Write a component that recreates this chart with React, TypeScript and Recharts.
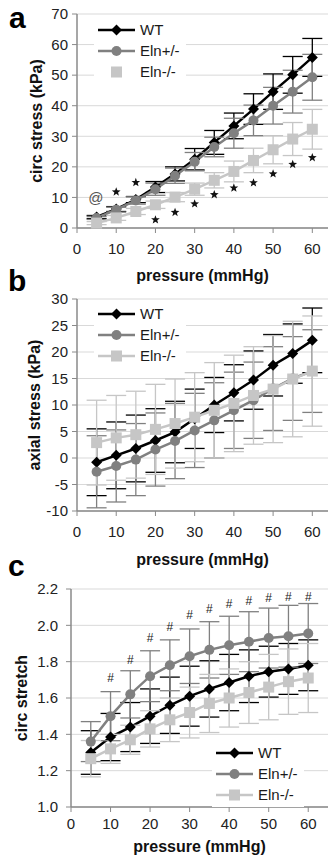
import React from 'react'
import {
  ComposedChart,
  Line,
  Scatter,
  XAxis,
  YAxis,
  CartesianGrid,
  ErrorBar,
  Legend,
  Label,
} from 'recharts'

// ── Datos ──────────────────────────────────────────────────────────────────────
const pressure = [5, 10, 15, 20, 25, 30, 35, 40, 45, 50, 55, 60]
const xTicks = [0, 10, 20, 30, 40, 50, 60]

// a: circ stress (kPa)
const wtCircStress = [3.6, 6.2, 9.3, 13.4, 17.7, 22.5, 28.0, 33.4, 38.9, 44.6, 50.1, 55.8]
const wtCircStressErr = [0.5, 0.8, 1.0, 1.8, 2.3, 3.5, 3.9, 4.2, 5.0, 5.8, 6.0, 6.2]
const hetCircStress = [3.3, 6.0, 9.0, 12.7, 17.1, 21.7, 26.5, 31.0, 35.2, 40.0, 44.6, 49.3]
const hetCircStressErr = [0.5, 0.8, 1.2, 2.0, 2.5, 3.0, 3.2, 4.9, 5.0, 6.0, 7.0, 7.5]
const koCircStress = [1.6, 3.3, 5.4, 7.6, 10.1, 12.7, 15.6, 18.5, 22.1, 25.6, 29.1, 32.3]
const koCircStressErr = [0.5, 0.8, 1.0, 1.2, 1.5, 2.0, 2.5, 3.4, 4.0, 4.6, 5.4, 6.5]
const starPressure = [10, 15, 20, 25, 30, 35, 40, 45, 50, 55, 60]
const starY = [11.8, 14.9, 2.7, 5.1, 7.9, 10.9, 13.1, 14.8, 17.7, 20.8, 23.0]
const atPressure = [4.8]
const atY = [10.0]
const circStressTicks = [0, 10, 20, 30, 40, 50, 60, 70]

// b: axial stress (kPa)
const wtAxialStress = [-0.8, 0.5, 1.8, 3.3, 4.9, 7.4, 10.0, 12.3, 14.7, 17.5, 19.7, 22.2]
const wtAxialStressErr = [6.3, 6.3, 6.3, 6.0, 5.8, 5.6, 5.2, 5.3, 5.5, 5.8, 5.6, 6.1]
const hetAxialStress = [-2.6, -1.5, -0.3, 1.6, 3.2, 5.2, 7.1, 9.0, 10.9, 13.1, 15.0, 16.4]
const hetAxialStressErr = [6.8, 6.8, 6.8, 6.9, 7.1, 7.0, 7.1, 7.2, 7.2, 7.9, 7.9, 7.8]
const koAxialStress = [2.9, 3.8, 4.4, 5.4, 6.5, 7.7, 9.0, 10.3, 11.8, 13.0, 14.9, 16.4]
const koAxialStressErr = [8.0, 8.0, 8.2, 8.5, 8.4, 8.4, 9.0, 9.1, 9.2, 10.1, 10.9, 10.4]
const axialStressTicks = [-10, -5, 0, 5, 10, 15, 20, 25, 30]

// c: circ stretch
const wtCircStretch = [1.3, 1.385, 1.44, 1.5, 1.56, 1.61, 1.65, 1.685, 1.72, 1.745, 1.76, 1.78]
const wtCircStretchErr = [0.12, 0.13, 0.135, 0.15, 0.155, 0.165, 0.155, 0.155, 0.145, 0.14, 0.14, 0.14]
const hetCircStretch = [1.36, 1.5, 1.62, 1.72, 1.78, 1.83, 1.865, 1.89, 1.91, 1.93, 1.94, 1.955]
const hetCircStretchErr = [0.11, 0.135, 0.13, 0.14, 0.14, 0.15, 0.155, 0.16, 0.165, 0.165, 0.17, 0.165]
const koCircStretch = [1.266, 1.32, 1.37, 1.43, 1.48, 1.52, 1.57, 1.6, 1.63, 1.66, 1.69, 1.71]
const koCircStretchErr = [0.1, 0.08, 0.08, 0.1, 0.12, 0.14, 0.16, 0.16, 0.17, 0.18, 0.18, 0.19]
const hashPressure = [10, 15, 20, 25, 30, 35, 40, 45, 50, 55, 60]
const hashY = [1.71, 1.81, 1.93, 1.995, 2.06, 2.09, 2.12, 2.135, 2.15, 2.155, 2.16]
const circStretchTicks = [1.0, 1.2, 1.4, 1.6, 1.8, 2.0, 2.2]

// ── Estilos ────────────────────────────────────────────────────────────────────
const FONT = '"Liberation Sans", Arial, Helvetica, sans-serif'
const WT_COLOR = '#000000'
const HET_COLOR = '#808080'
const KO_COLOR = '#c6c6c6'
const GRID = '#d9d9d9'
const AXIS = '#8a8a8a'

type Row = Record<string, number>

function buildRows(
  wt: number[], wtErr: number[],
  het: number[], hetErr: number[],
  ko: number[], koErr: number[],
): Row[] {
  return pressure.map((p, i) => ({
    p,
    wt: wt[i], wtErr: wtErr[i],
    het: het[i], hetErr: hetErr[i],
    ko: ko[i], koErr: koErr[i],
  }))
}

function buildNotes(xs: number[], ys: number[], mark: string) {
  return xs.map((p, i) => ({ p, y: ys[i], mark }))
}

// ── Marcadores ─────────────────────────────────────────────────────────────────
function Diamond({ cx, cy, index }: any) {
  if (cx == null || cy == null) return null
  const s = 5.5
  return (
    <polygon
      key={`dm-${index}`}
      points={`${cx},${cy - s} ${cx + s},${cy} ${cx},${cy + s} ${cx - s},${cy}`}
      fill={WT_COLOR}
    />
  )
}

function Circle({ cx, cy, index }: any) {
  if (cx == null || cy == null) return null
  return <circle key={`ci-${index}`} cx={cx} cy={cy} r={5} fill={HET_COLOR} />
}

function Square({ cx, cy, index }: any) {
  if (cx == null || cy == null) return null
  return <rect key={`sq-${index}`} x={cx - 5.5} y={cy - 5.5} width={11} height={11} fill={KO_COLOR} />
}

// estrella de cinco puntas para la significación
function starPoints(cx: number, cy: number, r: number) {
  const pts: string[] = []
  for (let k = 0; k < 10; k++) {
    const rad = k % 2 === 0 ? r : r * 0.42
    const a = -Math.PI / 2 + (k * Math.PI) / 5
    pts.push(`${cx + rad * Math.cos(a)},${cy + rad * Math.sin(a)}`)
  }
  return pts.join(' ')
}

function NoteMark({ cx, cy, payload }: any) {
  if (cx == null || cy == null) return null
  const mark = payload.mark
  if (mark === '*') {
    return <polygon points={starPoints(cx, cy, 4.6)} fill="#111" />
  }
  const size = mark === '#' ? 12 : 15
  return (
    <text
      x={cx}
      y={cy + size * 0.36}
      textAnchor="middle"
      fontFamily={FONT}
      fontSize={size}
      fill={mark === '@' ? '#555' : '#222'}
    >
      {mark}
    </text>
  )
}

// ── Leyenda ────────────────────────────────────────────────────────────────────
const legendItems = [
  { name: 'WT', color: WT_COLOR, shape: 'diamond' },
  { name: 'Eln+/-', color: HET_COLOR, shape: 'circle' },
  { name: 'Eln-/-', color: KO_COLOR, shape: 'square' },
]

function LegendBox({ koLine }: { koLine: boolean }) {
  return (
    <div style={{ background: '#fff', padding: '2px 6px 2px 4px', fontFamily: FONT, fontSize: 15, color: '#1a1a1a' }}>
      {legendItems.map((it) => (
        <div key={it.name} style={{ display: 'flex', alignItems: 'center', height: 21 }}>
          <svg width={37} height={14}>
            {(it.shape !== 'square' || koLine) && (
              <line x1={0} y1={7} x2={37} y2={7} stroke={it.color} strokeWidth={2.5} />
            )}
            {it.shape === 'diamond' && <polygon points="18.5,1.5 24,7 18.5,12.5 13,7" fill={it.color} />}
            {it.shape === 'circle' && <circle cx={18.5} cy={7} r={5} fill={it.color} />}
            {it.shape === 'square' && <rect x={13} y={1.5} width={11} height={11} fill={it.color} />}
          </svg>
          <span style={{ marginLeft: 5, lineHeight: '15px' }}>{it.name}</span>
        </div>
      ))}
    </div>
  )
}

// ── Panel ──────────────────────────────────────────────────────────────────────
interface PanelProps {
  top: number
  height: number
  plotTop: number
  plotBottom: number
  plotLeft: number
  xMax: number
  rows: Row[]
  yDomain: [number, number]
  yTicks: number[]
  yFmt?: (v: number) => string
  yTitle: string
  yTitleX: number
  xTickMargin: number
  yTickMargin: number
  xTitleOffset: number
  legendLeft: number
  legendTop: number
  koLegendLine: boolean
  notes: { p: number; y: number; mark: string }[]
}

function Panel(props: PanelProps) {
  const {
    top, height, plotTop, plotBottom, plotLeft, xMax, rows, yDomain, yTicks, yFmt,
    yTitle, yTitleX, xTickMargin, yTickMargin, xTitleOffset, legendLeft, legendTop,
    koLegendLine, notes,
  } = props
  const yCenter = (plotTop + plotBottom) / 2
  return (
    <div style={{ position: 'absolute', left: 0, top }}>
      <ComposedChart
        width={328}
        height={height}
        data={rows}
        margin={{ top: plotTop, right: 0, bottom: 0, left: 0 }}
      >
        <CartesianGrid vertical={false} stroke={GRID} strokeWidth={1} />
        <XAxis
          dataKey="p"
          type="number"
          domain={[0, xMax]}
          ticks={xTicks}
          allowDataOverflow
          height={height - plotBottom}
          tick={{ fontSize: 15, fill: '#222', fontFamily: FONT }}
          tickSize={5}
          tickMargin={xTickMargin}
          stroke={AXIS}
          axisLine={{ stroke: AXIS, strokeWidth: 1.5 }}
          tickLine={{ stroke: AXIS }}
        >
          <Label
            value="pressure (mmHg)"
            position="insideBottom"
            offset={xTitleOffset}
            style={{ fontSize: 16, fontWeight: 700, fill: '#111', fontFamily: FONT }}
          />
        </XAxis>
        <YAxis
          type="number"
          domain={yDomain}
          ticks={yTicks}
          interval={0}
          width={plotLeft}
          tickFormatter={yFmt}
          tick={{ fontSize: 15, fill: '#222', fontFamily: FONT }}
          tickSize={5}
          tickMargin={yTickMargin}
          axisLine={{ stroke: AXIS, strokeWidth: 1.5 }}
          tickLine={{ stroke: AXIS }}
        >
          <Label
            content={() => (
              <text
                x={yTitleX}
                y={yCenter}
                transform={`rotate(-90 ${yTitleX} ${yCenter})`}
                textAnchor="middle"
                fontFamily={FONT}
                fontSize={16}
                fontWeight={700}
                fill="#111"
              >
                {yTitle}
              </text>
            )}
          />
        </YAxis>
        <Legend
          layout="vertical"
          align="center"
          verticalAlign="middle"
          wrapperStyle={{ left: legendLeft, top: legendTop, width: 'auto', height: 'auto' }}
          content={() => <LegendBox koLine={koLegendLine} />}
        />
        <Line
          dataKey="wt"
          stroke={WT_COLOR}
          strokeWidth={2.5}
          dot={Diamond}
          activeDot={false}
          isAnimationActive={false}
        >
          <ErrorBar dataKey="wtErr" width={10} stroke={WT_COLOR} strokeWidth={1.3} direction="y" isAnimationActive={false} />
        </Line>
        <Line
          dataKey="het"
          stroke={HET_COLOR}
          strokeWidth={2.5}
          dot={Circle}
          activeDot={false}
          isAnimationActive={false}
        >
          <ErrorBar dataKey="hetErr" width={10} stroke={HET_COLOR} strokeWidth={1.3} direction="y" isAnimationActive={false} />
        </Line>
        <Line
          dataKey="ko"
          stroke={KO_COLOR}
          strokeWidth={2.5}
          dot={Square}
          activeDot={false}
          isAnimationActive={false}
        >
          <ErrorBar dataKey="koErr" width={10} stroke={KO_COLOR} strokeWidth={1.3} direction="y" isAnimationActive={false} />
        </Line>
        <Scatter data={notes} dataKey="y" shape={NoteMark} isAnimationActive={false} legendType="none" />
      </ComposedChart>
    </div>
  )
}

const rowsA = buildRows(wtCircStress, wtCircStressErr, hetCircStress, hetCircStressErr, koCircStress, koCircStressErr)
const rowsB = buildRows(wtAxialStress, wtAxialStressErr, hetAxialStress, hetAxialStressErr, koAxialStress, koAxialStressErr)
const rowsC = buildRows(wtCircStretch, wtCircStretchErr, hetCircStretch, hetCircStretchErr, koCircStretch, koCircStretchErr)
const notesA = [...buildNotes(atPressure, atY, '@'), ...buildNotes(starPressure, starY, '*')]
const notesC = buildNotes(hashPressure, hashY, '#')

export default function App() {
  const letter = { position: 'absolute' as const, fontFamily: FONT, fontWeight: 700, fontSize: 30, lineHeight: '30px', color: '#000' }
  return (
    <div style={{ position: 'absolute', left: 0, top: 0, width: 328, height: 859, background: '#fff', overflow: 'hidden' }}>
      <Panel
        top={0}
        height={285}
        plotTop={14}
        plotBottom={228}
        plotLeft={77}
        xMax={64}
        rows={rowsA}
        yDomain={[0, 70]}
        yTicks={circStressTicks}
        yTitle="circ stress (kPa)"
        yTitleX={42}
        xTickMargin={10}
        yTickMargin={4}
        xTitleOffset={4}
        legendLeft={94}
        legendTop={17}
        koLegendLine={false}
        notes={notesA}
      />
      <Panel
        top={285}
        height={285}
        plotTop={14}
        plotBottom={226}
        plotLeft={77}
        xMax={64}
        rows={rowsB}
        yDomain={[-10, 30]}
        yTicks={axialStressTicks}
        yTitle="axial stress (kPa)"
        yTitleX={40}
        xTickMargin={10}
        yTickMargin={4}
        xTitleOffset={5}
        legendLeft={94}
        legendTop={16}
        koLegendLine={true}
        notes={[]}
      />
      <Panel
        top={570}
        height={289}
        plotTop={19}
        plotBottom={237}
        plotLeft={71}
        xMax={65}
        rows={rowsC}
        yDomain={[1.0, 2.2]}
        yTicks={circStretchTicks}
        yFmt={(v: number) => v.toFixed(1)}
        yTitle="circ stretch"
        yTitleX={27}
        xTickMargin={6}
        yTickMargin={8}
        xTitleOffset={7}
        legendLeft={212}
        legendTop={170}
        koLegendLine={true}
        notes={notesC}
      />
      <div style={{ ...letter, left: 9, top: 3 }}>a</div>
      <div style={{ ...letter, left: 8, top: 266 }}>b</div>
      <div style={{ ...letter, left: 8, top: 551 }}>c</div>
    </div>
  )
}
